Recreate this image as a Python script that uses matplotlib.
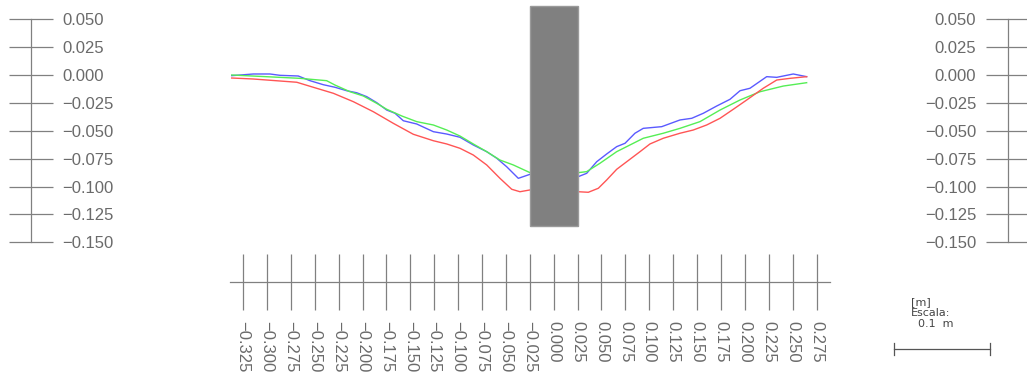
import matplotlib
matplotlib.use("Agg")
import matplotlib.pyplot as plt
from matplotlib.patches import Rectangle

plt.rcParams['font.family'] = ['Liberation Sans', 'DejaVu Sans']

# profile readings (m)
blue_x = [-0.3368, -0.3142, -0.2968, -0.2863, -0.2672, -0.2549, -0.2410, -0.2288, -0.2165, -0.2061,
          -0.1956, -0.1851, -0.1747, -0.1660, -0.1573, -0.1433, -0.1259, -0.1119, -0.0980, -0.0841,
          -0.0701, -0.0596, -0.0492, -0.0370, -0.0248, 0.0, 0.0257, 0.0345, 0.0450, 0.0554,
          0.0659, 0.0746, 0.0850, 0.0937, 0.1130, 0.1321, 0.1444, 0.1565, 0.1705, 0.1844,
          0.1949, 0.2053, 0.2228, 0.2333, 0.2506, 0.2646]
blue_y = [-0.0006, 0.0009, 0.0009, -0.0003, -0.0009, -0.0051, -0.0087, -0.0110, -0.0141, -0.0159,
          -0.0194, -0.0248, -0.0314, -0.0343, -0.0410, -0.0439, -0.0508, -0.0529, -0.0558, -0.0627,
          -0.0687, -0.0746, -0.0822, -0.0926, -0.0890, -0.0900, -0.0911, -0.0881, -0.0777, -0.0708,
          -0.0642, -0.0612, -0.0522, -0.0478, -0.0463, -0.0403, -0.0388, -0.0343, -0.0278, -0.0218,
          -0.0141, -0.0119, -0.0015, -0.0021, 0.0009, -0.0015]

green_x = [-0.3368, -0.2654, -0.2375, -0.2288, -0.2131, -0.1992, -0.1851, -0.1747, -0.1590, -0.1433,
           -0.1259, -0.1119, -0.0980, -0.0841, -0.0701, -0.0562, -0.0423, -0.0248, 0.0, 0.0257,
           0.0345, 0.0484, 0.0659, 0.0937, 0.1146, 0.1321, 0.1530, 0.1740, 0.1949, 0.2158,
           0.2402, 0.2646]
green_y = [0.0, -0.0030, -0.0051, -0.0090, -0.0150, -0.0188, -0.0254, -0.0307, -0.0367, -0.0418,
           -0.0448, -0.0493, -0.0547, -0.0618, -0.0687, -0.0762, -0.0806, -0.0875, -0.0880, -0.0875,
           -0.0866, -0.0791, -0.0687, -0.0567, -0.0522, -0.0478, -0.0418, -0.0314, -0.0224, -0.0150,
           -0.0099, -0.0069]

red_x = [-0.3368, -0.3142, -0.2688, -0.2515, -0.2305, -0.2096, -0.1887, -0.1678, -0.1469, -0.1259,
         -0.1119, -0.0980, -0.0841, -0.0701, -0.0562, -0.0439, -0.0353, -0.0248, 0.0, 0.0257,
         0.0362, 0.0467, 0.0554, 0.0659, 0.0764, 0.0903, 0.1007, 0.1146, 0.1321, 0.1460,
         0.1600, 0.1740, 0.1879, 0.2019, 0.2192, 0.2333, 0.2472, 0.2646]
red_y = [-0.0027, -0.0036, -0.0065, -0.0110, -0.0164, -0.0239, -0.0329, -0.0433, -0.0531, -0.0589,
         -0.0618, -0.0657, -0.0717, -0.0806, -0.0926, -0.1024, -0.1046, -0.1030, -0.1040, -0.1046,
         -0.1051, -0.1015, -0.0941, -0.0845, -0.0777, -0.0687, -0.0618, -0.0567, -0.0522, -0.0493,
         -0.0448, -0.0388, -0.0307, -0.0224, -0.0119, -0.0045, -0.0030, -0.0015]

y_ticks = [0.050, 0.025, 0.0, -0.025, -0.050, -0.075, -0.100, -0.125, -0.150]
x_ticks = [-0.325, -0.300, -0.275, -0.250, -0.225, -0.200, -0.175, -0.150, -0.125, -0.100,
           -0.075, -0.050, -0.025, 0.0, 0.025, 0.050, 0.075, 0.100, 0.125, 0.150,
           0.175, 0.200, 0.225, 0.250, 0.275]

# obstacle block in the middle
block_x = (-0.025, 0.025)
block_y = (-0.135, 0.062)

def fmt(v):
    return f"{v:.3f}".replace("-", "\u2212")

fig = plt.figure(figsize=(10.27, 3.82), dpi=100)
ax = fig.add_axes([0, 0, 1, 1])
ax.set_xlim(-0.5792, 0.4951)
ax.set_ylim(-0.2751, 0.0672)

ax.plot(blue_x, blue_y, color="#5a5aff", lw=1.0)
ax.plot(green_x, green_y, color="#55ee55", lw=1.0)
ax.plot(red_x, red_y, color="#ff5555", lw=1.0)

ax.add_patch(Rectangle((block_x[0], block_y[0]), block_x[1] - block_x[0], block_y[1] - block_y[0],
                       facecolor="#808080", edgecolor="#9a9a9a", lw=1.0, zorder=5))

# rulers built from the spines
gray = "#808080"
ax.spines["top"].set_visible(False)
for s in ["left", "right", "bottom"]:
    ax.spines[s].set_color(gray)
    ax.spines[s].set_linewidth(0.9)
ax.spines["right"].set_position(("data", -0.5471))
ax.spines["left"].set_position(("data", 0.4755))
ax.spines["left"].set_bounds(-0.150, 0.050)
ax.spines["right"].set_bounds(-0.150, 0.050)
ax.spines["bottom"].set_position(("data", -0.1852))
ax.spines["bottom"].set_bounds(-0.3386, 0.289)

ax.set_yticks(y_ticks)
ax.set_yticklabels([fmt(v) for v in y_ticks])
ax.yaxis.set_ticks_position("both")
ax.tick_params(axis="y", which="both", direction="inout", length=31, width=0.9, color=gray,
               labelleft=True, labelright=True, pad=7.5, labelsize=12, labelcolor="#6a6a6a")

ax.set_xticks(x_ticks)
ax.set_xticklabels([fmt(v) for v in x_ticks])
ax.tick_params(axis="x", direction="inout", length=40, width=0.9, color=gray,
               pad=8.5, labelsize=12, labelcolor="#6a6a6a", labelrotation=270)

# scale bar
ax.plot([0.356, 0.456], [-0.2455, -0.2455], color="#555555", lw=0.9)
ax.plot([0.356, 0.356], [-0.2400, -0.2510], color="#555555", lw=0.9)
ax.plot([0.456, 0.456], [-0.2400, -0.2510], color="#555555", lw=0.9)
ax.text(0.3737, -0.2031, "[m]", fontsize=8, color="#444444", va="center", ha="left", family="DejaVu Sans")
ax.text(0.3737, -0.2133, "Escala:", fontsize=8, color="#444444", va="center", ha="left", family="DejaVu Sans")
ax.text(0.3810, -0.2231, "0.1  m", fontsize=8, color="#444444", va="center", ha="left", family="DejaVu Sans")

fig.savefig("out.png", dpi=100)
